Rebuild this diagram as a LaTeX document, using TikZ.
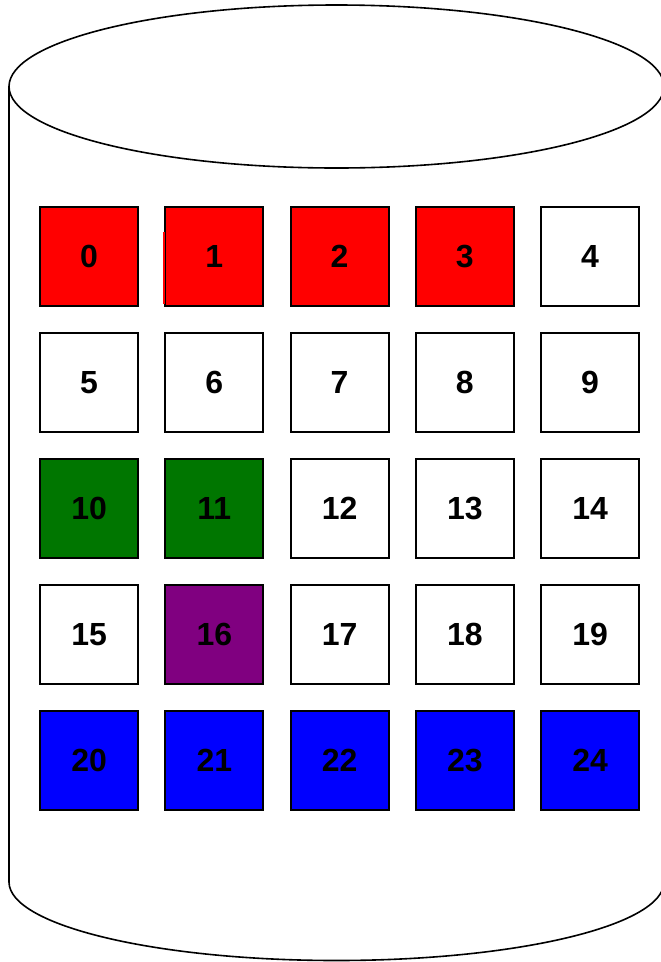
\documentclass[tikz,border=0pt]{standalone}
\usepackage{fontspec}
\setmainfont{Liberation Sans}
\definecolor{cred}{RGB}{255,0,0}
\definecolor{cgreen}{RGB}{0,118,0}
\definecolor{cpurple}{RGB}{128,0,128}
\definecolor{cblue}{RGB}{0,0,255}
\begin{document}
\begin{tikzpicture}[x=1pt,y=-1pt,
  cyl/.style={draw=black, line width=1.6pt},
  cell/.style={draw=black, line width=2.2pt, minimum width=98pt, minimum height=99pt,
    inner sep=0pt, anchor=north west, text=black,
    font=\bfseries\fontsize{32}{32}\selectfont},
  redcell/.style={cell, fill=cred},
  greencell/.style={cell, fill=cgreen},
  purplecell/.style={cell, fill=cpurple},
  bluecell/.style={cell, fill=cblue},
  whitecell/.style={cell, fill=white}]
\useasboundingbox (0,0) rectangle (661,962);
% cylinder
\draw[cyl] (336.5,86.5) ellipse [x radius=327.5, y radius=81.5];
\draw[cyl] (9,86.5) -- (9,882) arc[start angle=180, end angle=0, x radius=327.5, y radius=78.5] -- (664,86.5);
% cells
\foreach \n/\c/\r/\s in {0/0/0/redcell,1/1/0/redcell,2/2/0/redcell,3/3/0/redcell,4/4/0/whitecell,
  5/0/1/whitecell,6/1/1/whitecell,7/2/1/whitecell,8/3/1/whitecell,9/4/1/whitecell,
  10/0/2/greencell,11/1/2/greencell,12/2/2/whitecell,13/3/2/whitecell,14/4/2/whitecell,
  15/0/3/whitecell,16/1/3/purplecell,17/2/3/whitecell,18/3/3/whitecell,19/4/3/whitecell,
  20/0/4/bluecell,21/1/4/bluecell,22/2/4/bluecell,23/3/4/bluecell,24/4/4/bluecell}
  \node[\s] (b\n) at ({39+125.25*\c},{206+126*\r}) {\n};
% small gap in the left border of cell 1
\draw[cred, line width=2.4pt] (164.25,232) -- (164.25,304);
\end{tikzpicture}
\end{document}
